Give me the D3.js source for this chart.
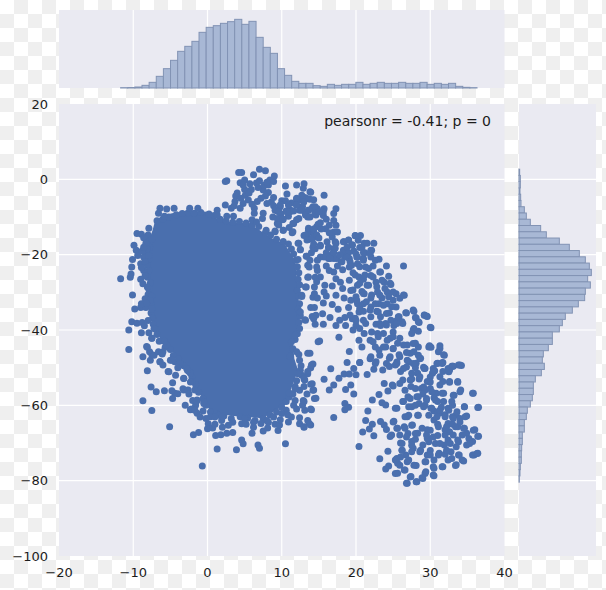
<!DOCTYPE html>
<html><head><meta charset="utf-8">
<script src="https://cdn.jsdelivr.net/npm/d3@7/dist/d3.min.js"></script>
<style>html,body{margin:0;padding:0;background:#fff}svg{display:block}text{font-family:"DejaVu Sans",sans-serif;fill:#1c1c1c}</style>
</head><body><div id="chart"></div>
<script>
const xTicks=[-20,-10,0,10,20,30,40];
const yTicks=[20,0,-20,-40,-60,-80,-100];
const annotation="pearsonr = -0.41; p = 0";
const topBinStart=-11.7, topBinWidth=0.96;
const topCounts=[1,1.5,3,8,17,35,58,83,110,125,140,167,182,187,194,199,206,191,200,152,122,104,58,38,20,14,14,7,5,11,8,11,11,17,11,14,17,14,14,17,14,14,17,11,14,11,14,5,2,1];
const rightBinStart=2.7, rightBinWidth=1.662;
const rightCounts=[2,4,4,3,5,6,16,22,34,65,82,121,151,181,199,211,217,206,214,199,197,178,160,139,130,121,100,100,88,73,70,76,67,49,43,43,40,34,25,22,16,16,10,10,8,7,7,4,3,1];
// silhouette of the saturated centre of the cloud, where single dots cannot be told apart
const denseCore=[[-7,-10.6],[-4.8,-9],[-2.3,-8.4],[0,-8.6],[1,-10.2],[3.5,-11.6],[5.3,-11.6],[6.8,-13.2],[8.4,-15.4],[10.4,-17.2],[11.8,-21.6],[12.2,-30.4],[12.4,-34.8],[12.4,-37.3],[12,-41.8],[11.5,-43.6],[11.7,-47.6],[12.2,-50.7],[11.2,-56],[10.7,-59.6],[7.4,-63.4],[3.5,-62.8],[0.5,-62],[-1.3,-56],[-2.7,-51.6],[-4.5,-46.2],[-6.4,-42.2],[-7.2,-38.2],[-7.3,-34.7],[-7.2,-34],[-8,-29.5],[-7.9,-23.3],[-8,-17],[-7.4,-13.5]];
const ringPoints=[[-6.8,-11],[-6,-10.5],[-5.2,-10],[-4.2,-9.4],[-3.4,-9.1],[-2.6,-8.9],[-1.8,-9],[-.9,-8.8],[.2,-9.2],[.9,-9.6],[1.7,-10.6],[2.5,-11],[3.4,-11.4],[4.3,-11.2],[5.2,-11.6],[6,-12.2],[6.9,-12.5],[7.8,-14.2],[8.5,-14.8],[9.3,-15.9],[10.2,-16.5],[10.9,-17.2],[11.3,-18.5],[11.6,-19.8],[11.9,-21.5],[12.1,-23.2],[12.3,-24.8],[12.2,-26.5],[12.4,-28],[12.1,-29.5],[12.3,-31],[12.4,-33],[12.2,-34.5],[12.5,-36.2],[12.3,-38],[12.4,-39.6],[12.1,-41],[11.8,-42.5],[-7.9,-13],[-8,-14.8],[-8.2,-16.3],[-7.8,-18],[-8.2,-19.5],[-7.9,-21.2],[-8.1,-22.8],[-7.9,-24.3],[-8.1,-26],[-7.7,-27.5],[-7.9,-29.2],[-8,-30.6],[-7.5,-31],[-7.6,-33],[-7.6,-35.5],[-7.4,-36.8],[-7.3,-38.5],[-7,-39.8],[-6.8,-41.2],[-6.5,-43],[-5.7,-44.6],[-5,-45.2],[-4.6,-46.8],[-3.9,-47.6],[-3.2,-49.5],[-2.5,-51],[-2.1,-52.5],[-1.6,-54.5],[-1.2,-56.5],[-.6,-58.2],[-.2,-60],[.4,-61.8],[1.2,-62.3],[2.2,-62.8],[3.2,-63.5],[4.4,-63],[5.4,-63.4],[6.4,-64],[7.5,-63.5],[8.4,-62.5],[9.3,-61.8],[10,-60.5],[10.6,-59],[11,-57.8],[-5,-48],[-4.4,-48.4],[-3.7,-48.9],[-2.8,-50.2],[-2.3,-51.5],[-2.1,-53.7],[-1.7,-55.9],[-1.4,-58.6],[-.5,-59.5],[-6,-45.8],[-7.5,-42.2],[-8.2,-44.4],[-7.5,-46.6],[-6.4,-48.4],[-5.3,-51],[-3.2,-52.8],[-3.2,-55.9],[-2.6,-55.9],[-4.4,-56.8],[-2.3,-61.2],[-1.4,-62.1],[.4,-63],[1.5,-62.6],[-.6,-61.5],[-1.6,-60],[11.5,-45],[12.3,-46.5],[12.6,-49.5],[12.7,-52],[12,-53.5],[11.8,-55],[11.5,-57]];
const upperPoints=[[7,2.7],[7.8,2.3],[4.2,1.8],[4.6,1.8],[2.6,-.4],[2.4,-.6],[4.4,-.9],[5,-.2],[6.2,1.2],[6.6,-1],[7,-.4],[8.4,-.2],[9,.9],[8.9,-.6],[8.2,-1.5],[10.5,-1.8],[12,-1.5],[13,-1.2],[12.9,-2.4],[4,-3.6],[3.8,-4.4],[5,-2.7],[5.9,-2.7],[5.1,-4.2],[7.5,-2.8],[8.2,-3.5],[7.8,-4.4],[10.7,-3.9],[13.8,-3.3],[13.1,-4.8],[12,-5.3],[12.6,-5.5],[13.8,-5.3],[10,-5.7],[10.5,-5.7],[3.7,-5.9],[2.4,-6.8],[3.2,-7.7],[5.5,-5.5],[4.8,-6.4],[4.4,-7.7],[6.7,-5.9],[8,-6.4],[8.6,-6],[9.8,-7.3],[10.6,-8.4],[11.2,-8.2],[12,-6.8],[12.4,-8.2],[14.2,-7.3],[13.5,-10],[14.6,-9.5],[12,-10.7],[9.4,-8.4],[6.3,-7.7],[6.3,-9],[7.5,-9],[7.4,-10.4],[1.3,-8.2],[1.3,-9.5],[2.6,-9.8],[3.5,-9.8],[6,-10.7],[6.6,-11.3],[10.1,-10.7],[9.4,-11.7],[9.1,-13.7],[10.2,-13.5],[11.4,-14.2],[11.5,-11.7],[7.9,-13.5],[13.8,-14],[13.4,-14.8],[14.2,-15.5],[14.7,-12.6],[12.2,-17],[12.5,-18.7],[14.2,-18],[13.3,-20.4],[12.2,-21.3],[13.5,-22.8],[13.5,-26],[14.7,-23.3],[12.7,-30.8],[13.9,-34],[13.3,-28.6],[14.2,-31.3],[5.7,-1.2],[4.8,-1.5],[6.8,-2.2],[7.6,-1.6],[8,-.8],[5.6,-3.6],[4.5,-5],[3.6,-7],[6,-6.6],[7.2,-5],[8.9,-7],[8.9,-4.8],[9.9,-9.2],[11.3,-6.3],[12.8,-7.2],[10.9,-9.8],[11,-12.8],[8.8,-10]];
const leftPoints=[[-6.4,-7.7],[-5.5,-7.9],[-4.5,-7.7],[-2.4,-7.7],[-1.3,-7.7],[-6.6,-9],[-5.8,-9.8],[-9.5,-14.4],[-8.9,-14.6],[-8.6,-15.5],[-7.5,-15.9],[-9.9,-17.5],[-9.6,-18.8],[-8.3,-17],[-8.1,-18.4],[-9.4,-20.2],[-8.6,-20.6],[-7.9,-20.2],[-10.1,-21.3],[-10.2,-23.3],[-9,-22.4],[-8.6,-24.2],[-10.4,-26],[-10.3,-25.1],[-11.7,-26.4],[-8.4,-25.5],[-8.7,-27.7],[-8.1,-28.6],[-10.1,-30.7],[-8.4,-31.7],[-7.7,-32.2],[-9.8,-34.4],[-9,-34],[-8.3,-34],[-7.5,-34.4],[-8.9,-23.4],[-8.4,-21.8],[-8.8,-19],[-8.6,-18],[-9,-26.5],[-8.9,-33],[-8.2,-32.9]];
const lowerPoints=[[-10.2,-37.8],[-9.5,-38.2],[-8.8,-38],[-8,-37.5],[-8.5,-38.9],[-10.6,-40],[-8.9,-40.7],[-7.9,-40.7],[-7.2,-39.6],[-7.5,-42.2],[-10.6,-45.2],[-8.1,-44.6],[-7.8,-45.8],[-8.7,-47.1],[-7.7,-48],[-7.2,-46.7],[-6.6,-45.8],[-6.1,-46.4],[-6.4,-48.4],[-6,-49.3],[-5.2,-51.1],[-4.8,-48],[-8.1,-50.8],[-4.3,-52],[-3.7,-48.9],[-3.2,-52.9],[-4.7,-54],[-2.7,-50.7],[-2.3,-53.8],[-7.6,-55.1],[-6.9,-56.4],[-5.8,-56.1],[-4.8,-56.1],[-4,-56.9],[-4.7,-58.2],[-8.7,-58.8],[-7.5,-61.4],[-3.3,-55.6],[-2.7,-56],[-2.5,-57],[-2,-58.7],[-5.1,-65.7],[-1.9,-67.8],[-1.2,-67.2],[-2.2,-61],[-1.7,-61.3],[-1,-63.1],[.1,-64.9],[0,-66.2],[.7,-66],[1.1,-68],[1.8,-67.8],[2.6,-67.4],[3.4,-67.2],[4.6,-69.2],[4.8,-70.2],[1.3,-71.6],[3.9,-71.8],[6.8,-70.5],[7,-71.4],[6,-67.4],[7.5,-66.8],[8.1,-66],[9.5,-66.7],[10.5,-70.2],[-.7,-76.1],[9.1,-65],[9.7,-65.2],[10.9,-64.4],[11.3,-63.1],[12.4,-63.3],[12.4,-64.9],[13,-65.8],[13.5,-64],[13.9,-65.2],[14,-61.2],[13.1,-61.3],[12.9,-58.7],[14.4,-58.2],[14.2,-56],[13.9,-54.4],[12.4,-56],[11.8,-55.6],[11,-56.7],[11.8,-58.7],[10.6,-61.3],[10,-62.2],[8.9,-63.1],[6.2,-65.8],[4.6,-64.9],[2.8,-65.3],[1.9,-64],[1,-63.1],[13.9,-50],[14.2,-49],[13.5,-46.2],[13.1,-53.3],[13.5,-51.6],[12.5,-50.7],[14.9,-43.1],[13.1,-37.3],[14.1,-36.4],[11.8,-41.3],[11.3,-43.1],[12,-45.8],[12.4,-48],[12.2,-51.6],[11.1,-47],[-3,-60],[-0.5,-59],[2,-63],[5,-63.5],[8,-64],[-1.5,-59],[-4,-50],[-5.5,-44],[-5.8,-43],[-.2,-63.5],[1,-65],[2,-65.8],[3.4,-64.5],[5.2,-65],[6.2,-64.5],[7.2,-64.8],[8.2,-64.5],[9.8,-63.8],[10.8,-62.5],[12,-61],[11.6,-60],[12.8,-60],[13.4,-57],[13,-55]];
const bandUpperPoints=[[12.7,-4.2],[13.9,-3.4],[13.4,-5.1],[14.3,-5.4],[12.97,-6],[13.6,-8.2],[14.8,-7.8],[15.7,-4.2],[15.7,-7.8],[14.5,-9.1],[13.2,-9.1],[15.6,-9.6],[17.3,-7.8],[17,-9.1],[17,-10.9],[17.3,-12.2],[16.4,-12.2],[15.9,-13.1],[14.9,-11.9],[17,-14],[17.5,-14],[13.6,-13.5],[14.3,-14],[13,-14.9],[13.6,-16],[14.7,-14.9],[16.8,-15.3],[16.1,-16.6],[15.2,-17.5],[14.5,-18.4],[16.3,-18.1],[17,-18.4],[17.3,-17],[18.4,-16.6],[19,-16.2],[19.9,-14.9],[20.6,-14.9],[20.3,-16.2],[19.5,-17.5],[21.1,-17],[20.5,-18.1],[22,-18.8],[18.4,-18.9],[15.2,-20.6],[13.4,-20.4],[15.7,-20.6],[16.3,-21],[17,-21],[18,-21.9],[19.1,-21],[20.2,-20.6],[21,-21],[22,-20.6],[23.1,-21.2],[20.2,-22.4],[21.3,-23.3],[19.1,-23.3],[17,-24.6],[16.4,-24.2],[14.8,-24.2],[13.7,-23.3],[15.2,-25.9],[13.6,-25.9],[17.9,-27.3],[17.3,-26.4],[19.1,-26.8],[20.4,-25.9],[22,-25.5],[23.3,-24.6],[22.7,-27.3],[20.2,-28.1],[19.3,-29.5],[21.5,-28.1],[23.8,-27.3],[24.7,-27.9],[25.4,-30.4],[26.5,-30.8],[24.2,-29.9],[22.9,-29.9],[21.1,-30.4],[20,-31.2],[19.3,-32.1],[17.3,-30.8],[15.7,-29.9],[13.2,-28.6],[14.4,-28.6],[15.8,-28.1],[14.4,-30.4],[12.7,-31.1],[15.6,-32.8],[14.4,-34],[16.8,-33.2],[14.6,-36.1],[15.5,-35.7],[13.2,-37.4],[14.3,-37],[12.5,-35.2],[17.3,-38.8],[17.8,-37.4],[18.5,-36.7],[19.5,-37],[18.6,-38.8],[20,-38.8],[20.2,-33],[21,-33],[22,-33.9],[23.1,-33],[24.2,-33],[25.4,-33.9],[20.4,-35.2],[22,-36.5],[21.3,-38.3],[23.3,-36.5],[24,-38.3],[23.3,-38.8],[24.7,-37.4],[25.8,-36.5],[26.8,-35.5],[27.8,-35],[28.1,-36.8],[29.2,-36.1],[29.6,-36.4],[28.5,-38],[26.3,-38.3],[30.1,-39.4],[27.8,-39.6],[25.1,-38.8],[21,-35],[22.8,-35],[24.5,-35.5],[22,-31.5],[23.5,-31.5],[21,-26.5],[18.5,-20.5],[16.8,-19.8],[19.7,-19],[21.2,-19.5],[18.2,-24],[19.6,-24.8],[22.3,-23],[20.8,-29.8],[22.7,-38.5],[25.5,-37.5]];
const bandClumpPoints=[[12,-5],[12,-6.8],[9.8,-6.8],[9.1,-8.2],[9.6,-8.6],[10.7,-8.6],[11.1,-8.6],[11.6,-8.4],[10.9,-6.8],[12.7,-8.2],[13.2,-9.5],[13.6,-8.2],[14.1,-7.7],[14.5,-7.3],[13.8,-10],[14.5,-9],[15.6,-8.6],[15,-8.6],[9.4,-10.4],[10.2,-10.6],[9.6,-12.1],[9.1,-13.9],[10.2,-13.5],[11.5,-13.9],[11.6,-11.7],[12.3,-10.4],[13.6,-13],[14.3,-13.2],[13.2,-14.8],[13.4,-16.1],[14.1,-15.7],[14.7,-14.8],[12.3,-17],[12.5,-18.6],[14.3,-17.2],[15.2,-17.7],[16.3,-18.1],[17.2,-18.3],[17.2,-16.6],[18.3,-16.6],[19,-16.1],[19.9,-15],[19.5,-17.4],[21.5,-17],[22.4,-17],[20.8,-18.1],[22.1,-18.8],[18.3,-18.8],[19,-19.5],[20,-19.8],[21,-19.5],[17,-19.5],[16,-19.5],[15.9,-20.5],[16.5,-21],[17.4,-21],[18.1,-21.9],[18.8,-20.7],[19.2,-21.9],[21.9,-19.7],[20.1,-20.6],[21,-21.5],[22.6,-21.5],[19.4,-22.8],[20.5,-23.2],[21.7,-23.7],[23.2,-24.6],[24.1,-23],[26.4,-23],[24.4,-25.7],[19.9,-25.4],[21.2,-25.4],[22.3,-25.9],[23.5,-26.8],[24.6,-27.6],[20.5,-27.6],[21.7,-28.1],[22.8,-28.5],[23.9,-29],[25,-29.9],[19.6,-29.4],[21,-30.3],[22.1,-30.7],[23.2,-30.7],[24.4,-31.2],[26.4,-30.7],[25.9,-31.6],[25,-32.1],[20.1,-32.1],[21.4,-32.5],[22.6,-33],[23.7,-33.4],[24.8,-33.8],[20.5,-34.3],[21.9,-34.7],[23,-35.2],[24.1,-35.6],[26.7,-35.4],[27.7,-34.7],[29.2,-36],[29.5,-36.3],[28,-36.7],[28.4,-37.8],[30,-39.3],[25.7,-36.5],[26.2,-37.8],[25.5,-38.3],[27.7,-40],[28.4,-40.3],[27.5,-40.9],[25,-40.5],[24.1,-38.7],[23.2,-38.3],[20.5,-39.6],[19.6,-40],[19.9,-36.9],[21,-37.4],[22.1,-40.5],[23.7,-40.9],[24.6,-42.2],[25.9,-42.2],[21.9,-42.7],[20.8,-44.5],[22.6,-44.5],[23.7,-44.5],[25,-44.9],[26.4,-44],[27.7,-43.6],[28.4,-44.5],[29.8,-44.5],[31.3,-44.9],[31.9,-46.7],[31.1,-45.8],[28.4,-46.7],[27.3,-46.2],[25.9,-47.1],[24.6,-47.1],[23.2,-46.7],[21.9,-47.6],[20.5,-48.6],[22.6,-48.9],[24.1,-48.9],[25.5,-48.9],[27.1,-48.4],[28.6,-47.6],[30.9,-48.9],[31.6,-48.7],[32.9,-49.6],[33.8,-49.3],[29.1,-49.9],[30.4,-50.2],[32.4,-50.2],[15.3,-13.2],[15.2,-11.5],[16,-10.6],[15,-15.6],[16.4,-14.2],[18.8,-18],[17.8,-20],[14,-19.5],[14.8,-21.5],[13.8,-21.5],[16,-23],[17.5,-23],[14.5,-26],[14.7,-27.2],[16.8,-28.3],[18.2,-29],[14.8,-31.5],[16,-31],[18.4,-31.5],[19,-34],[17.6,-34.5],[19.2,-36],[20,-37.5],[16.5,-36.7],[14.5,-38.5],[15.6,-38.5]];
const bandLowerPoints=[[15.1,-42.9],[17.7,-41.9],[19.1,-45.7],[13.8,-46.2],[14,-49.3],[13.5,-51],[13,-53],[14.1,-54.3],[14.3,-55.9],[14.6,-58.1],[13,-59],[13.9,-61],[13.7,-64.8],[13,-65.7],[16.6,-50.3],[15.7,-53.1],[16.4,-55.9],[17,-54.6],[17.7,-52.8],[18.4,-51.7],[19.1,-51.7],[20,-51.9],[19.7,-50.2],[18.8,-48.6],[20.5,-48.6],[18.6,-55.8],[19.3,-54.6],[19.7,-57],[18.5,-59.5],[19,-60.5],[18.5,-61.2],[17,-63.2],[22.2,-58.6],[21.6,-61.5],[21.3,-64],[22.2,-65],[21.8,-66.3],[20.9,-67.1],[22.4,-68.1],[20.4,-70.9],[23.3,-64.3],[23.8,-65.2],[24.1,-66.4],[25.1,-64.2],[24.3,-72.2],[23.2,-74.2],[24.4,-76.1],[24,-76.9],[25.6,-78],[26.9,-80.7],[28.2,-80.3],[29,-79.4],[30.5,-78.7],[30.5,-76.7],[29.4,-77.6],[28.1,-76],[27.4,-78.9],[26.5,-77.2],[25.6,-75.4],[25.5,-74.1],[26.9,-75],[26.7,-73.2],[26.2,-71.9],[27.7,-71.4],[27.5,-69.6],[26,-70],[24.6,-68.3],[25.6,-66.1],[26.5,-65.7],[27.6,-65.2],[28.3,-67.4],[28.7,-71.9],[29.4,-75],[30.5,-74.5],[29.6,-73.2],[31.2,-72.7],[31.7,-76.3],[32.4,-74.5],[33.5,-75.8],[34.5,-74.8],[35.9,-73.2],[36.4,-72.7],[33.9,-73.2],[32.8,-72.3],[34.9,-70.5],[35.7,-69.6],[36.5,-68.2],[36,-66.5],[34.6,-66.1],[34.9,-62.8],[33.7,-69.2],[32.4,-69.2],[32,-66.5],[33.7,-65.7],[33,-63],[34.6,-60.4],[36.5,-60.5],[35.8,-56.8],[34.1,-55.9],[33.2,-57.3],[33.7,-53.7],[32.6,-53.7],[31.7,-51],[32.6,-50.6],[33.1,-49.6],[34.2,-49.4],[31.7,-48.6],[31,-48.8],[31.3,-44.2],[31.8,-46.6],[29.9,-44.2],[30.1,-44.6],[30.6,-50.8],[30.3,-51.5],[31.7,-53.7],[31.8,-56.8],[30.8,-56.8],[29.6,-53.7],[28.3,-51.5],[29.2,-50.2],[28.1,-48.8],[28.7,-47.5],[27.8,-45.8],[28,-43.5],[26.9,-44],[25.6,-43.5],[24.2,-42.7],[22.9,-40.9],[21.1,-40.9],[20.4,-42.7],[22.3,-43.1],[23.1,-45.3],[22,-47.1],[22.7,-48.4],[22.4,-50.4],[23.6,-50.6],[21.5,-51.8],[24.5,-47.5],[25.8,-46.6],[26.9,-48],[26,-51],[24.5,-49.7],[27.5,-51.5],[26.3,-53.3],[27.4,-55],[23.8,-54.2],[24.3,-56.2],[24.9,-54.6],[23.1,-57.1],[23.5,-59.3],[24,-59.9],[25.5,-60.8],[26.3,-59],[27,-57.7],[27.5,-60.4],[26.9,-63],[28.3,-62.6],[28.2,-57.7],[29.5,-58.6],[29.3,-55.9],[30.1,-60.8],[31.2,-62.1],[30.5,-63.9],[32.4,-64.8],[31,-59],[32.4,-60.8],[33.5,-62.5],[29.6,-66.5],[29.6,-68.8],[30.7,-70.1],[31.9,-70.5],[33.5,-71],[34.9,-67.4],[28.5,-53],[27.5,-53],[28.8,-55.5],[29,-57],[30,-55.5],[30.5,-58],[31.5,-60.5],[32,-62.5],[30.5,-61.5],[29.3,-60],[28.5,-59.5],[25.5,-48.5],[25,-45],[26.8,-46],[24,-44.5],[28,-50],[26.8,-49.8],[30,-52.5],[33,-60],[32.6,-67],[34,-63.5],[33,-65],[31,-65],[28,-69],[29,-70.5],[27,-67.5],[31,-68],[30,-72],[32,-73],[23,-41.8],[25,-41.8]];
const tailClumpPoints=[[25.3,-49.3],[26.4,-50.2],[27.7,-48.9],[29.3,-50.2],[30.4,-51.1],[31.6,-48.9],[33,-49.6],[34,-49.3],[32.5,-51.1],[31.3,-52.4],[32.6,-53.9],[33.7,-53.9],[31.3,-54.6],[30,-53.8],[28.6,-52.4],[27.3,-53.3],[25.9,-54.2],[25,-54.9],[26.6,-56],[28,-55.5],[29.1,-55.1],[30.2,-56.4],[31.6,-56.8],[33.1,-57.3],[34,-56.4],[35.7,-56.8],[36.4,-60.6],[34.6,-60.4],[34.7,-63],[32.9,-59],[31.8,-59],[30.7,-58.6],[29.5,-58.2],[28.4,-57.7],[27.3,-58.2],[26.4,-59],[25.3,-60.8],[27.1,-60.4],[28,-60],[29.1,-60.4],[30.2,-60.8],[31.3,-61.3],[32.5,-61.3],[33.6,-61.7],[27.1,-62.6],[28.4,-62.6],[29.8,-62.6],[30.9,-63],[32,-63],[33.1,-63.5],[34,-64.4],[25,-64.4],[26.6,-63],[27.5,-65.3],[26.6,-66.1],[25.5,-66.1],[28.9,-66.1],[30,-66.6],[31.1,-65.7],[32.2,-65.7],[33.4,-65.7],[34.5,-66.1],[35.8,-66.6],[36.4,-68.2],[35.2,-68.8],[35.3,-70.1],[34.3,-67.9],[33.1,-67.9],[32,-67.9],[30.4,-68.4],[29.5,-67.9],[28,-67.5],[26.8,-68.4],[25.9,-67.9],[24.8,-67.9],[26.2,-70.1],[27.5,-70.6],[29.8,-69.7],[31.3,-70.1],[32.7,-70.1],[33.8,-69.7],[35.7,-73.2],[36.3,-72.8],[33.8,-73.2],[34.3,-74.5],[32.9,-74.1],[33.4,-76],[31.6,-76.3],[32.2,-71.9],[31.1,-73.2],[30,-73.2],[28.6,-72.3],[27.5,-72.3],[26.2,-71.9],[26,-73.7],[27.1,-74.5],[29.3,-75],[30.4,-76.3],[30.4,-78.5],[29.3,-78.1],[28.9,-79.2],[26.8,-80.7],[28.1,-80.3],[25.3,-74.5],[25.3,-78.1],[25.9,-75.9],[26.6,-77.2],[27.3,-79],[27.8,-75.9]];
const scatterPoints=[...ringPoints,...upperPoints,...leftPoints,...lowerPoints,...bandUpperPoints,...bandClumpPoints,...bandLowerPoints,...tailClumpPoints];

const W=606,H=590;
const mainL=59,mainR=504.5,mainT=104,mainB=556;
const topT=10,topB=88,rightL=519,rightR=596;
const panel="#EAEAF2",dot="#4A6FAE",barFill="#A8B8D5",barEdge="#8293B4";

const x=d3.scaleLinear().domain([-20,40]).range([mainL,mainR]);
const y=d3.scaleLinear().domain([-100,20]).range([mainB,mainT]);
const topY=d3.scaleLinear().domain([0,234]).range([topB,topT]);
const rightX=d3.scaleLinear().domain([0,231]).range([rightL,rightR]);

const svg=d3.select("#chart").append("svg").attr("width",W).attr("height",H);
const pat=svg.append("defs").append("pattern").attr("id","chk").attr("patternUnits","userSpaceOnUse").attr("width",28).attr("height",28);
pat.append("rect").attr("width",28).attr("height",28).attr("fill","#EFEFEF");
pat.append("rect").attr("width",14).attr("height",14).attr("fill","#fff");
pat.append("rect").attr("x",14).attr("y",14).attr("width",14).attr("height",14).attr("fill","#fff");
svg.append("rect").attr("width",W).attr("height",H).attr("fill","url(#chk)");

// panels
[[mainL,mainT,mainR,mainB],[mainL,topT,mainR,topB],[rightL,mainT,rightR,mainB]].forEach(([l,t,r,b])=>{
  svg.append("rect").attr("x",l).attr("y",t).attr("width",r-l).attr("height",b-t).attr("fill",panel);
});

// grids
const innerX=xTicks.slice(1,-1), innerY=yTicks.slice(1,-1);
function vGrid(t,b){svg.append("g").attr("stroke","#fff").attr("stroke-width",1.2).selectAll("line").data(innerX).join("line")
  .attr("x1",d=>x(d)).attr("x2",d=>x(d)).attr("y1",t).attr("y2",b);}
function hGrid(l,r){svg.append("g").attr("stroke","#fff").attr("stroke-width",1.2).selectAll("line").data(innerY).join("line")
  .attr("x1",l).attr("x2",r).attr("y1",d=>y(d)).attr("y2",d=>y(d));}
vGrid(mainT,mainB);vGrid(topT,topB);hGrid(mainL,mainR);hGrid(rightL,rightR);

// marginal histograms
svg.append("g").selectAll("rect").data(topCounts).join("rect")
  .attr("x",(d,i)=>x(topBinStart+i*topBinWidth))
  .attr("width",(d,i)=>x(topBinStart+(i+1)*topBinWidth)-x(topBinStart+i*topBinWidth))
  .attr("y",d=>topY(d)).attr("height",d=>topB-topY(d))
  .attr("fill",barFill).attr("stroke",barEdge).attr("stroke-width",1);
svg.append("g").selectAll("rect").data(rightCounts).join("rect")
  .attr("x",rightL)
  .attr("y",(d,i)=>y(rightBinStart-i*rightBinWidth))
  .attr("height",(d,i)=>y(rightBinStart-(i+1)*rightBinWidth)-y(rightBinStart-i*rightBinWidth))
  .attr("width",d=>rightX(d)-rightL)
  .attr("fill",barFill).attr("stroke",barEdge).attr("stroke-width",1);

// scatter
const line=d3.line().x(d=>x(d[0])).y(d=>y(d[1])).curve(d3.curveLinearClosed);
svg.append("path").datum(denseCore).attr("d",line).attr("fill",dot);
svg.append("g").selectAll("circle").data(scatterPoints).join("circle")
  .attr("cx",d=>x(d[0])).attr("cy",d=>y(d[1])).attr("r",3.5).attr("fill",dot);

// tick labels and annotation
const fs=13;
svg.append("g").selectAll("text").data(xTicks).join("text")
  .attr("x",d=>x(d)).attr("y",577).attr("text-anchor","middle").attr("font-size",fs)
  .text(d=>String(d).replace("-","\u2212"));
svg.append("g").selectAll("text").data(yTicks).join("text")
  .attr("x",48).attr("y",d=>y(d)+4.5).attr("text-anchor","end").attr("font-size",fs)
  .text(d=>String(d).replace("-","\u2212"));
svg.append("text").attr("x",491).attr("y",126).attr("text-anchor","end").attr("font-size",14).text(annotation);
</script></body></html>
